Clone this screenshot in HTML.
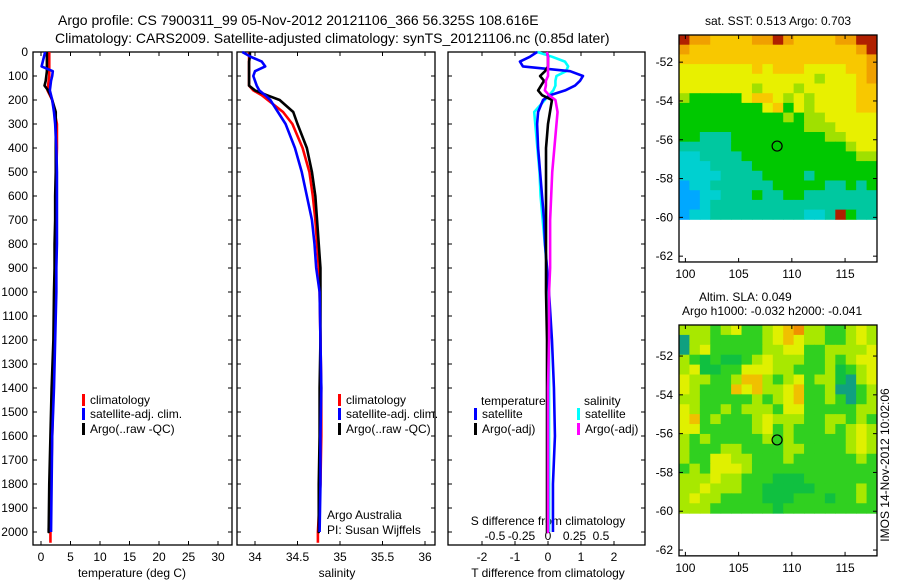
<!DOCTYPE html>
<html><head><meta charset="utf-8"><style>
body{margin:0;background:#fff;}
svg text{font-family:"Liberation Sans",sans-serif;fill:#000;}
</style></head><body>
<svg id="chart" width="900" height="580" xmlns="http://www.w3.org/2000/svg">
<text x="58" y="25" font-size="14">Argo profile: CS 7900311_99 05-Nov-2012 20121106_366 56.325S 108.616E</text>
<text x="55" y="43" font-size="14">Climatology: CARS2009. Satellite-adjusted climatology: synTS_20121106.nc (0.85d later)</text>
<g id="g"></g>
</svg>
<script>
const depths=[0,20,40,60,80,100,120,140,160,180,200,250,300,400,500,600,700,800,900,1000,1200,1400,1600,1800,2000];
const tempClim=[1.4,1.4,1.4,1.4,1.4,1.4,1.3,1.2,1.1,1.5,1.9,2.3,2.7,2.7,2.6,2.6,2.6,2.5,2.5,2.5,2.3,2.1,1.9,1.7,1.6];
const tempSat=[0.7,0.5,0.3,0.1,2.0,1.9,1.7,1.6,1.5,1.7,1.9,2.2,2.4,2.6,2.7,2.7,2.7,2.7,2.6,2.6,2.4,2.2,1.9,1.8,1.7];
const tempArgo=[1.0,1.0,1.0,1.0,1.0,0.9,0.8,0.6,1.2,1.6,1.9,2.5,2.5,2.5,2.5,2.4,2.4,2.3,2.3,2.2,2.1,1.8,1.6,1.4,1.3];
const salClim=[33.93,33.93,33.93,33.93,33.93,33.93,33.93,33.93,33.98,34.08,34.15,34.33,34.44,34.56,34.64,34.68,34.71,34.73,34.75,34.76,34.77,34.78,34.78,34.77,34.74];
const salSat=[33.85,33.95,34.08,34.12,34.0,33.98,34.0,34.02,34.05,34.12,34.18,34.27,34.36,34.47,34.55,34.61,34.67,34.70,34.72,34.76,34.77,34.78,34.77,34.77,34.76];
const salArgo=[33.94,33.94,33.93,33.93,33.93,33.93,33.93,33.93,34.0,34.14,34.29,34.45,34.5,34.61,34.67,34.71,34.73,34.75,34.77,34.77,34.77,34.76,34.76,34.75,34.75];
const dTSat=[-0.33,-0.55,-0.85,-0.76,0.67,1.06,0.97,0.82,0.52,0.06,-0.15,-0.30,-0.33,-0.30,-0.24,-0.18,-0.12,-0.09,-0.03,0.03,0.12,0.18,0.21,0.15,0.15];
const dSSat=[-0.10,0.04,0.16,0.19,0.17,0.08,0.07,0.07,0.05,0.01,-0.03,-0.13,-0.12,-0.10,-0.08,-0.07,-0.05,-0.03,-0.01,0,0.01,0.01,0.01,0.01,0.01];
const dTArgo=[-0.03,0,0,0,-0.09,-0.24,-0.12,-0.21,-0.3,-0.18,0.12,0.06,0,-0.06,-0.06,-0.06,-0.06,-0.06,-0.06,-0.06,-0.03,-0.03,-0.03,-0.03,-0.03];
const dSArgo=[-0.01,0,0,0,0,0,-0.02,-0.02,-0.03,0.01,0.07,0.09,0.08,0.06,0.04,0.03,0.02,0.02,0.02,0.01,0.01,0,0,0,0];
const depthTicks=[0,100,200,300,400,500,600,700,800,900,1000,1100,1200,1300,1400,1500,1600,1700,1800,1900,2000];
const tempTicks=[0,5,10,15,20,25,30];
const salTicks=[34,34.5,35,35.5,36];
const salTickLabels=["34","34.5","35","35.5","36"];
const dTTicks=[-2,-1,0,1,2];
const dSTicks=[-0.5,-0.25,0,0.25,0.5];
const latTicks=[-52,-54,-56,-58,-60,-62];
const lonTicks=[100,105,110,115];
const sstGrid=["9887777889877778899","8777777777777777789","7777777777777777778","6666666767776666778","6666666666666566678","6666666566656666677","5444446776565666677","4444444467465666677","4444444444545566666","4444444444445556666","4433344444444455666","3333344444444444566","2233334444444444455","2223333444444444444","2222333344443444444","1223333334444433434","1122333433443333333","1123333333333333333","1223333333332239433"];
const slaGrid=["3332342234563322343","0332222234543322343","0342222233442233334","3212112343332232344","3411224443322231234","4332235532342331034","4322254533452230023","3322222323452232023","4322323332442222233","4523222343332233232","4422222342322232343","3232222232322222343","3222332222332222343","3224433222322222232","2324443222222222222","3334332221112222222","3343332211111222232","3433222211122212232","3332222221222222222"];
const argoLon=108.616, argoLat=-56.325;

const NS="http://www.w3.org/2000/svg";
const G=document.getElementById('g');
function mk(t,a,p){const e=document.createElementNS(NS,t);for(const k in a)e.setAttribute(k,a[k]);(p||G).appendChild(e);return e;}
function txt(x,y,s,fs,anc){const e=mk('text',{x:x,y:y,'font-size':fs||12,'text-anchor':anc||'start'});e.textContent=s;return e;}
const yD=d=>52+0.24*d;
const TOP=52,BOT=545;
const panels=[{x0:33,x1:232},{x0:237,x1:435},{x0:448,x1:645}];
const xT=v=>41+5.9*v, xS=v=>255+85*(v-34), xDT=v=>548+33*v, xDS=v=>548+106*v;

panels.forEach((p,i)=>{
 const r=mk('rect',{x:p.x0,y:TOP,width:p.x1-p.x0,height:BOT-TOP,fill:'none',stroke:'#000','stroke-width':1.3});
 
 
 depthTicks.forEach(d=>{const y=yD(d);mk('line',{x1:p.x0,x2:p.x0+4,y1:y,y2:y,stroke:'#000'});mk('line',{x1:p.x1,x2:p.x1-4,y1:y,y2:y,stroke:'#000'});});
});
depthTicks.forEach(d=>{const t=txt(28,yD(d)+4,String(d),12,'end');});
function xticks(arr,f,p,labels,ly){arr.forEach((v,i)=>{const x=f(v);mk('line',{x1:x,x2:x,y1:BOT,y2:BOT-4,stroke:'#000'});mk('line',{x1:x,x2:x,y1:TOP,y2:TOP+4,stroke:'#000'});const t=txt(x,ly,labels?labels[i]:String(v),12,'middle');});}
xticks(tempTicks,xT,panels[0],null,561);
xticks(salTicks,xS,panels[1],salTickLabels,561);
xticks(dTTicks,xDT,panels[2],null,561);
dSTicks.forEach(v=>{const t=txt(xDS(v),540,String(v),12,'middle');});
let t;
t=txt(132,577,'temperature (deg C)',12,'middle');
t=txt(337,577,'salinity',12,'middle');
t=txt(548,577,'T difference from climatology',12,'middle');
t=txt(548,525,'S difference from climatology',12,'middle');
t=txt(327,519,'Argo Australia',12);
t=txt(327,534,'PI: Susan Wijffels',12);

function prof(vals,fx,col,name,endD){let pts=[];for(let i=0;i<vals.length;i++){pts.push(fx(vals[i])+','+yD(depths[i]));}
 pts.push(fx(vals[vals.length-1])+','+yD(endD));
 const e=mk('polyline',{points:pts.join(' '),fill:'none',stroke:col,'stroke-width':2.6,'stroke-linejoin':'round'});
 
 }
prof(tempClim,xT,'#f00','temp-climatology-line',2045);
prof(tempArgo,xT,'#000','temp-argo-line',1985);
prof(tempSat,xT,'#00f','temp-satellite-line',2000);
prof(salClim,xS,'#f00','sal-climatology-line',2045);
prof(salArgo,xS,'#000','sal-argo-line',1985);
prof(salSat,xS,'#00f','sal-satellite-line',2000);
prof(dSSat,xDS,'#0ff','sdiff-satellite-line',2000);
prof(dTSat,xDT,'#00f','tdiff-satellite-line',2000);
prof(dTArgo,xDT,'#000','tdiff-argo-line',1985);
prof(dSArgo,xDS,'#f0f','sdiff-argo-line',1985);

function legItem(x,y,col,label){mk('rect',{x:x,y:y-10,width:3,height:12,fill:col});const e=txt(x+8,y,label,12);}
[82,338].forEach(x=>{legItem(x,404,'#f00','climatology');legItem(x,418,'#00f','satellite-adj. clim.');legItem(x,433,'#000','Argo(..raw -QC)');});
t=txt(481,405,'temperature',12);
t=txt(584,405,'salinity',12);
legItem(474,418,'#00f','satellite');legItem(474,433,'#000','Argo(-adj)');
legItem(577,418,'#0ff','satellite');legItem(577,433,'#f0f','Argo(-adj)');

const sstPal=['#0060ff','#00a8ff','#00d0d0','#00c8a0','#00c800','#a0e000','#e8f000','#f8c800','#f0a000','#b02000'];
const slaPal=['#10a080','#10c040','#30d020','#a8e800','#e0f000','#f0c000','#f09000'];
function drawMap(gridRows,pal,top,latTop,name){
 const X0=679,X1=877,lon0=99.4,pxLon=(X1-X0)/(118-99.4),pxLat=19.4;
 const lx=v=>X0+(v-lon0)*pxLon, ly=v=>top+(latTop-v)*pxLat;
 const nR=gridRows.length,nC=gridRows[0].length,latB=-60.1;
 const ch=(latTop-latB)/nR, cw=(118-lon0)/nC;
 gridRows.forEach((row,r)=>{for(let c=0;c<nC;c++){const v=+row[c];const e=mk('rect',{x:lx(lon0+c*cw),y:ly(latTop-r*ch),width:cw*pxLon+0.5,height:ch*pxLat+0.5,fill:pal[v]});
  
  }});
 const b=mk('rect',{x:X0,y:top,width:X1-X0,height:ly(-62.3)-top,fill:'none',stroke:'#000','stroke-width':1.3});
 
 
 latTicks.forEach(v=>{const y=ly(v);mk('line',{x1:X0,x2:X0+4,y1:y,y2:y,stroke:'#000'});mk('line',{x1:X1,x2:X1-4,y1:y,y2:y,stroke:'#000'});const e=txt(673,y+4,String(v),12,'end');});
 const yb=ly(-62.3);
 lonTicks.forEach(v=>{const x=lx(v);mk('line',{x1:x,x2:x,y1:yb,y2:yb-4,stroke:'#000'});mk('line',{x1:x,x2:x,y1:top,y2:top+4,stroke:'#000'});const e=txt(x,yb+16,String(v),12,'middle');});
 const c=mk('circle',{cx:lx(argoLon),cy:ly(argoLat),r:5,fill:'none',stroke:'#000','stroke-width':1.2});
 
 
}
drawMap(sstGrid,sstPal,35,-50.6,'sst-map');
drawMap(slaGrid,slaPal,325,-50.4,'sla-map');
t=txt(778,25,'sat. SST: 0.513 Argo: 0.703',12,'middle');
t=txt(699,301,'Altim. SLA: 0.049',12);
t=txt(682,315,'Argo h1000: -0.032 h2000: -0.041',12);
t=txt(0,0,'IMOS 14-Nov-2012 10:02:06',12,'middle');t.setAttribute('transform','translate(889,465) rotate(-90)');
</script>
</body></html>
